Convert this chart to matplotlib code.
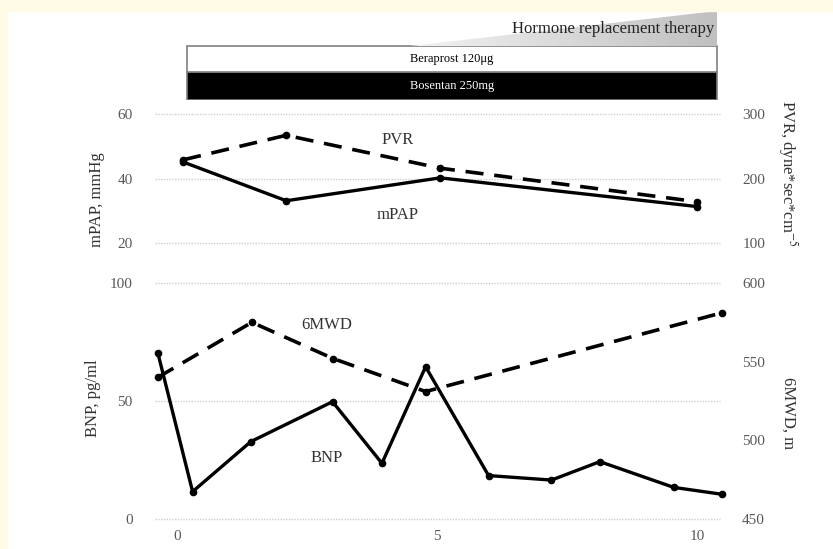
import numpy as np
import matplotlib
matplotlib.use("Agg")
import matplotlib.pyplot as plt
from matplotlib.patches import Rectangle, Polygon

# ---- data -----------------------------------------------------------------
# top panel
hemo_x = [0.12, 2.1, 5.06, 10.0]
mpap = [45.1, 33.1, 40.2, 31.3]          # mmHg
pvr = [229, 267, 216, 164]              # dyne*sec*cm-5

# bottom panel
bnp_x = [-0.37, 0.3, 1.42, 2.99, 3.94, 4.78, 5.99, 7.2, 8.13, 9.55, 10.47]
bnp = [70.5, 11.6, 32.8, 49.7, 23.6, 64.5, 18.4, 16.5, 24.3, 13.4, 10.5]   # pg/ml
mwd_x = [-0.37, 1.44, 3.0, 4.78, 10.47]
mwd = [540, 575, 552, 531, 581]         # m

# treatment timeline
drugs = ["Bosentan 250mg", "Beraprost 120μg"]
drug_start = [0.19, 0.19]
drug_end = [10.38, 10.38]
hrt_label = "Hormone replacement therapy"
hrt_start, hrt_end = 4.48, 10.38

XLIM = (-0.423, 10.44)
TICK_C = "#595959"
GRID = dict(color="#cfcfcf", lw=1.0, ls=(0, (1, 1)), clip_on=False)

plt.rcParams["font.family"] = ["Liberation Serif", "DejaVu Serif"]
plt.rcParams["mathtext.fontset"] = "stix"

W, H = 833, 549
fig = plt.figure(figsize=(W / 100, H / 100), dpi=100)


def px_axes(x0, y0, x1, y1):
    # axes from pixel box (top-left origin)
    return fig.add_axes([x0 / W, 1 - y1 / H, (x1 - x0) / W, (y1 - y0) / H])


# cream frame strips seen in the reference
fig.patches.append(Rectangle((0, 1 - 11 / H), 1, 11 / H, transform=fig.transFigure,
                             color="#fffbe6", zorder=0))
fig.patches.append(Rectangle((0, 0), 7 / W, 1, transform=fig.transFigure,
                             color="#fffbe6", zorder=0))


def style(ax, ticks_l, ticks_r, ax_r):
    for a in (ax, ax_r):
        for s in a.spines.values():
            s.set_visible(False)
        a.tick_params(length=0, labelsize=11, labelcolor=TICK_C, pad=16)
    ax.set_yticks(ticks_l)
    ax_r.set_yticks(ticks_r)
    for t in ticks_l:
        ax.axhline(t, zorder=0, **GRID)
    ax.set_xlim(*XLIM)


# ---- top panel: mPAP / PVR -------------------------------------------------
ax1 = px_axes(155, 114, 720, 243)
ax1r = ax1.twinx()
ax1.set_ylim(20, 60)
ax1r.set_ylim(100, 300)
style(ax1, [20, 40, 60], [100, 200, 300], ax1r)
ax1.set_xticks([])
ax1.plot(hemo_x, mpap, "-o", color="black", lw=2.4, ms=4.5, clip_on=False)
ax1r.plot(hemo_x, pvr, "o", color="black", ls=(0, (5, 3)), lw=2.6, ms=4.5, clip_on=False)
ax1.text(4.25, 51.9, "PVR", fontsize=12, color="#333333", ha="center", va="center")
ax1.text(4.25, 28.7, "mPAP", fontsize=12, color="#333333", ha="center", va="center")

# ---- bottom panel: BNP / 6MWD ---------------------------------------------
ax2 = px_axes(155, 283, 720, 519)
ax2r = ax2.twinx()
ax2.set_ylim(0, 100)
ax2r.set_ylim(450, 600)
style(ax2, [0, 50, 100], [450, 500, 550, 600], ax2r)
ax2.set_xticks([0, 5, 10])
ax2.tick_params(axis="x", pad=8)
ax2.plot(bnp_x, bnp, "-o", color="black", lw=2.4, ms=4.5, clip_on=False)
ax2r.plot(mwd_x, mwd, "o", color="black", ls=(0, (5, 3)), lw=2.6, ms=4.5, clip_on=False)
ax2.text(2.88, 82.2, "6MWD", fontsize=12, color="#333333", ha="center", va="center")
ax2.text(2.88, 25.8, "BNP", fontsize=12, color="#333333", ha="center", va="center")

# axis titles
fig.text(97 / W, 1 - 200 / H, "mPAP, mmHg", rotation=90, ha="center", va="center",
         fontsize=12, color="#333333")
fig.text(93 / W, 1 - 398 / H, "BNP, pg/ml", rotation=90, ha="center", va="center",
         fontsize=12, color="#333333")
fig.text(788 / W, 1 - 173 / H, r"PVR, dyne*sec*cm$^{-5}$", rotation=270, ha="center",
         va="center", fontsize=12, color="#333333")
fig.text(788 / W, 1 - 413 / H, "6MWD, m", rotation=270, ha="center", va="center",
         fontsize=12, color="#333333")

# ---- treatment bars --------------------------------------------------------
axt = px_axes(155, 11, 720, 100)
axt.set_xlim(*XLIM)
axt.set_ylim(0, 89)
axt.axis("off")
# rows: Bosentan 0-28, Beraprost 28-54, HRT wedge 55-89
rows = [(0, 28, "black", "white"), (28, 26, "white", "black")]
for name, s, e, (y0, h, fc, tc) in zip(drugs, drug_start, drug_end, rows):
    axt.add_patch(Rectangle((s, y0), e - s, h, facecolor=fc, edgecolor="#7f7f7f", lw=1.2))
    axt.text((s + e) / 2, y0 + h / 2, name, color=tc, fontsize=9, ha="center", va="center")

# gradient wedge for hormone therapy
grad = np.linspace(0.95, 0.75, 256)[None, :]
im = axt.imshow(grad, cmap="gray", vmin=0, vmax=1, aspect="auto",
                extent=(hrt_start, hrt_end, 54, 89), zorder=1)
wedge = Polygon([(hrt_start, 54), (hrt_end, 54), (hrt_end, 89)], closed=True,
                facecolor="none", edgecolor="none")
axt.add_patch(wedge)
im.set_clip_path(wedge)
axt.set_xlim(*XLIM)
axt.set_ylim(0, 89)
axt.text(hrt_end - 0.05, 71, hrt_label, fontsize=12, color="#222222",
         ha="right", va="center", zorder=3)

fig.savefig("out.png", dpi=100)
